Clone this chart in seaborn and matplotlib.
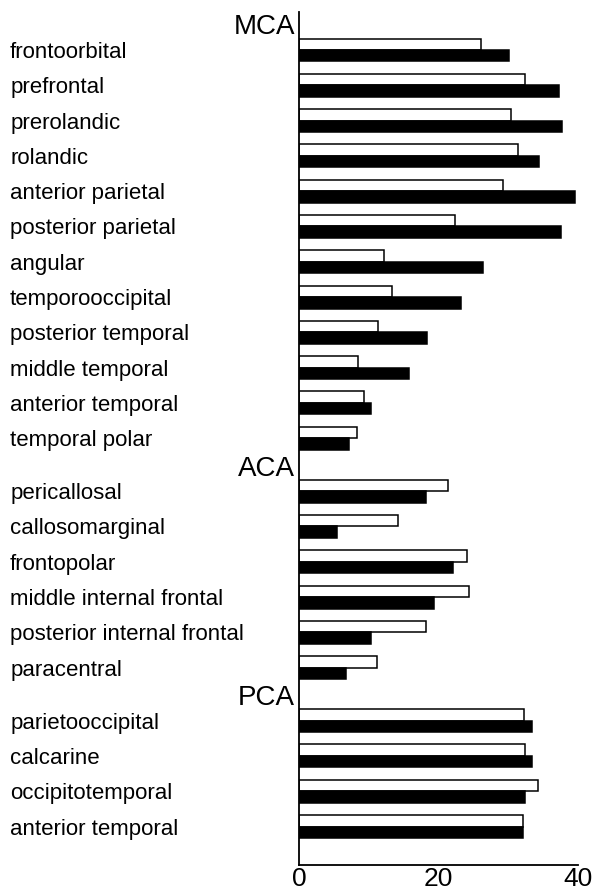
import matplotlib
matplotlib.use("Agg")
import numpy as np
import pandas as pd
import seaborn as sns
from matplotlib import pyplot as plt

sns.set_style("white")
plt.rcParams["font.family"] = ["Liberation Sans", "DejaVu Sans"]
plt.rcParams["text.color"] = "black"
plt.rcParams["xtick.color"] = "black"
plt.rcParams["ytick.color"] = "black"

# regions of each arterial territory
MCA_REGIONS = ["frontoorbital", "prefrontal", "prerolandic", "rolandic",
               "anterior parietal", "posterior parietal", "angular",
               "temporooccipital", "posterior temporal", "middle temporal",
               "anterior temporal", "temporal polar"]
ACA_REGIONS = ["pericallosal", "callosomarginal", "frontopolar",
               "middle internal frontal", "posterior internal frontal",
               "paracentral"]
PCA_REGIONS = ["parietooccipital", "calcarine", "occipitotemporal",
               "anterior temporal"]

# open (white) bars
MCA_OPEN = [26.1, 32.4, 30.4, 31.4, 29.3, 22.4, 12.2, 13.3, 11.4, 8.4, 9.4, 8.3]
ACA_OPEN = [21.4, 14.2, 24.1, 24.4, 18.2, 11.2]
PCA_OPEN = [32.3, 32.4, 34.3, 32.1]

# filled (black) bars
MCA_FILLED = [30.2, 37.3, 37.8, 34.5, 39.6, 37.6, 26.4, 23.2, 18.4, 15.8, 10.3, 7.2]
ACA_FILLED = [18.2, 5.4, 22.1, 19.4, 10.4, 6.7]
PCA_FILLED = [33.4, 33.4, 32.5, 32.2]

GROUPS = ["MCA", "ACA", "PCA"]
X_TICKS = [0, 20, 40]

group_data = [
    (MCA_REGIONS, MCA_OPEN, MCA_FILLED),
    (ACA_REGIONS, ACA_OPEN, ACA_FILLED),
    (PCA_REGIONS, PCA_OPEN, PCA_FILLED),
]

# long table, with half a row of extra space between territories
rows = []
group_starts = []
row_idx = 0
for g, (regions, opened, filled) in enumerate(group_data):
    group_starts.append(row_idx + 0.5 * g)
    for region, o, f in zip(regions, opened, filled):
        pos = row_idx + 0.5 * g
        rows.append({"region": region, "pos": pos, "series": "open", "value": o})
        rows.append({"region": region, "pos": pos, "series": "filled", "value": f})
        row_idx += 1
df = pd.DataFrame(rows)

fig = plt.figure(figsize=(5.92, 8.9), dpi=100)
ax = fig.add_axes([299 / 592, 1 - 865 / 890, (577.7 - 299) / 592, (865 - 12) / 890])

sns.barplot(
    data=df, x="value", y="pos", hue="series",
    hue_order=["open", "filled"],
    palette={"open": "white", "filled": "black"},
    orient="y", native_scale=True, width=0.65,
    edgecolor="black", linewidth=1.1, saturation=1,
    errorbar=None, legend=False, ax=ax,
)

ax.set_xlim(0, 40)
ax.set_ylim(23.09, -1.076)
ax.set_xlabel("")
ax.set_ylabel("")

# region labels, left aligned at the figure edge
tick_df = df.drop_duplicates("pos")
ax.set_yticks(tick_df["pos"], tick_df["region"])
ax.tick_params(axis="y", length=0, pad=208, labelsize=16)
for lbl in ax.get_yticklabels():
    lbl.set_horizontalalignment("left")

ax.set_xticks(X_TICKS, [str(t) for t in X_TICKS])
ax.tick_params(axis="x", direction="in", length=3, width=1.2, pad=1.5, labelsize=19)
for lbl in ax.get_xticklabels():
    lbl.set_fontfamily(["Liberation Sans Narrow", "Liberation Sans"])

for name, start in zip(GROUPS, group_starts):
    ax.text(-0.55, start - 0.64, name, ha="right", va="center", fontsize=20)

sns.despine(ax=ax)
for side in ["left", "bottom"]:
    ax.spines[side].set_linewidth(1.3)
    ax.spines[side].set_color("black")

fig.savefig("out.png", dpi=100, facecolor="white")
